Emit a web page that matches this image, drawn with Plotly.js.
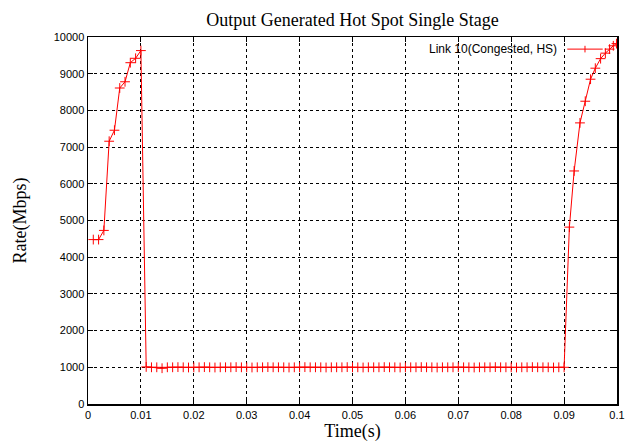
<!DOCTYPE html>
<html>
<head>
<meta charset="utf-8">
<script src="https://cdn.plot.ly/plotly-3.0.1.min.js"></script>
<style>html,body{margin:0;padding:0;background:#fff;}#chart{width:626px;height:444px;}</style>
</head>
<body>
<div id="chart"></div>
<script>
// Rising part at start
const timeStart = [0.001, 0.002, 0.003, 0.004, 0.005, 0.006, 0.007, 0.008, 0.009, 0.010];
const rateStart = [4480, 4480, 4730, 7160, 7460, 8610, 8780, 9300, 9420, 9630];
// Flat congested part
const timeFlat = [0.011,0.012,0.013,0.014,0.015,0.016,0.017,0.018,0.019,0.020,
  0.021,0.022,0.023,0.024,0.025,0.026,0.027,0.028,0.029,0.030,
  0.031,0.032,0.033,0.034,0.035,0.036,0.037,0.038,0.039,0.040,
  0.041,0.042,0.043,0.044,0.045,0.046,0.047,0.048,0.049,0.050,
  0.051,0.052,0.053,0.054,0.055,0.056,0.057,0.058,0.059,0.060,
  0.061,0.062,0.063,0.064,0.065,0.066,0.067,0.068,0.069,0.070,
  0.071,0.072,0.073,0.074,0.075,0.076,0.077,0.078,0.079,0.080,
  0.081,0.082,0.083,0.084,0.085,0.086,0.087,0.088,0.089,0.090];
const rateFlat = [1010,1000,1000,975,1000,1000,1005,1000,995,1000,
  1000,1005,1000,995,1000,1000,1000,1005,1000,1000,
  995,1000,1000,1005,1000,1000,1000,995,1000,1000,
  1005,1000,1000,1000,995,1000,1000,1000,1005,1000,
  1000,995,1000,1000,1000,1005,1000,1000,995,1000,
  1000,1000,1005,1000,1000,995,1000,1000,1000,1005,
  1000,1000,995,1000,1000,1000,1005,1000,1000,1000,
  995,1000,1000,1005,1000,1000,1000,995,1000,1000];
// Rising part at end
const timeEnd = [0.0910, 0.0919, 0.0930, 0.0940, 0.0950, 0.0959, 0.0969, 0.0978, 0.0986, 0.0993, 0.0999];
const rateEnd = [4820, 6350, 7660, 8250, 8850, 9150, 9410, 9560, 9670, 9760, 9820];

const seriesName = "Link 10(Congested, HS)";
const xTicks = [0, 0.01, 0.02, 0.03, 0.04, 0.05, 0.06, 0.07, 0.08, 0.09, 0.1];
const xTickText = ["0", "0.01", "0.02", "0.03", "0.04", "0.05", "0.06", "0.07", "0.08", "0.09", "0.1"];
const yTicks = [0, 1000, 2000, 3000, 4000, 5000, 6000, 7000, 8000, 9000, 10000];

const xs = timeStart.concat(timeFlat, timeEnd);
const ys = rateStart.concat(rateFlat, rateEnd);

const red = "#ff0000";
const trace = {
  x: xs, y: ys, type: "scatter", mode: "lines+markers", name: seriesName,
  line: {color: red, width: 1},
  marker: {symbol: "cross-thin", size: 7, color: red, line: {color: red, width: 1}},
  showlegend: false, cliponaxis: true
};

const axisCommon = {
  showline: true, linecolor: "#000", linewidth: 1.5, mirror: "allticks",
  ticks: "inside", ticklen: 5, tickwidth: 1, tickcolor: "#000",
  showgrid: true, gridcolor: "#000", griddash: "dot", gridwidth: 1,
  zeroline: false,
  tickfont: {family: "Liberation Sans, Arial, sans-serif", size: 11, color: "#000"}
};

const layout = {
  width: 626, height: 444,
  margin: {l: 88, r: 8.5, t: 37.3, b: 40},
  paper_bgcolor: "#fff", plot_bgcolor: "#fff",
  title: {text: "Output Generated Hot Spot Single Stage", x: 0.5, xref: "paper", y: 0.955, yanchor: "middle",
    font: {family: "Liberation Serif, Times New Roman, serif", size: 18, color: "#000"}},
  xaxis: Object.assign({}, axisCommon, {
    range: [0, 0.1], tickvals: xTicks, ticktext: xTickText,
    title: {text: "Time(s)", standoff: 2, font: {family: "Liberation Serif, Times New Roman, serif", size: 18, color: "#000"}}
  }),
  yaxis: Object.assign({}, axisCommon, {
    range: [0, 10000], tickvals: yTicks, tickformat: "d",
    title: {text: "Rate(Mbps)", standoff: 22, font: {family: "Liberation Serif, Times New Roman, serif", size: 18, color: "#000"}}
  }),
  annotations: [{
    xref: "paper", yref: "paper", x: 0.8895, y: 0.967, xanchor: "right", yanchor: "middle",
    text: seriesName, showarrow: false,
    font: {family: "Liberation Sans, Arial, sans-serif", size: 12, color: "#000"}
  }],
  shapes: [
    {type: "line", xref: "paper", yref: "paper", x0: 0.906, x1: 0.973, y0: 0.967, y1: 0.967, line: {color: red, width: 1}},
    {type: "line", xref: "paper", yref: "paper", x0: 0.9395, x1: 0.9395, y0: 0.958, y1: 0.976, line: {color: red, width: 1}}
  ]
};

Plotly.newPlot("chart", [trace], layout, {displayModeBar: false, staticPlot: true});
</script>
</body>
</html>
